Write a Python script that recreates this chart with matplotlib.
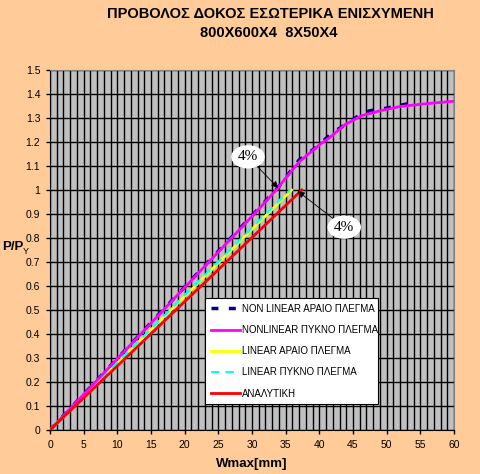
import matplotlib.pyplot as plt
import numpy as np

# values
x_nl_arai = [0, 5, 10, 15, 20, 25, 30, 34, 37, 39.4, 40.8, 42, 44.6, 46.3, 47.5, 49.8, 52, 53.9]
y_nl_arai = [0, 0.149, 0.298, 0.447, 0.596, 0.745, 0.893, 1.015, 1.125, 1.175, 1.21, 1.24, 1.285, 1.32, 1.33, 1.34, 1.353, 1.363]

x_nl_pykno = [0, 5, 10, 15, 20, 25, 30, 33.6, 35, 37.1, 40.1, 41.6, 43.8, 46.3, 49, 52, 56, 60]
y_nl_pykno = [0, 0.148, 0.297, 0.445, 0.594, 0.742, 0.89, 1.0, 1.05, 1.12, 1.19, 1.22, 1.272, 1.31, 1.33, 1.348, 1.36, 1.37]

x_lin_arai = [0, 5, 10, 15, 20, 25, 30, 35.9]
y_lin_arai = [0, 0.139, 0.279, 0.418, 0.557, 0.696, 0.836, 1.0]

x_lin_pykno = [0, 5, 10, 15, 20, 25, 30, 35.6]
y_lin_pykno = [0, 0.141, 0.281, 0.421, 0.562, 0.702, 0.843, 1.0]

x_anal = [0, 5, 10, 15, 20, 25, 30, 37.4]
y_anal = [0, 0.134, 0.267, 0.401, 0.535, 0.668, 0.802, 1.0]

labels = ['NON LINEAR ΑΡΑΙΟ ΠΛΕΓΜΑ', 'NONLINEAR ΠΥΚΝΟ ΠΛΕΓΜΑ',
          'LINEAR ΑΡΑΙΟ ΠΛΕΓΜΑ', 'LINEAR ΠΥΚΝΟ ΠΛΕΓΜΑ', 'ΑΝΑΛΥΤΙΚΗ']

plt.rcParams['font.family'] = ['Liberation Sans', 'DejaVu Sans']

fig = plt.figure(figsize=(4.81, 4.74), dpi=100, facecolor='#FFCC99')
ax = fig.add_axes([50/481, 1-430/474, 404/481, 360/474])
ax.set_facecolor('#C0C0C0')

ax.plot(x_nl_arai, y_nl_arai, color='#000080', lw=2.5, dashes=(2, 3), label=labels[0], zorder=3)
ax.plot(x_nl_pykno, y_nl_pykno, color='#FF00FF', lw=2, label=labels[1], zorder=4)
ax.plot(x_lin_arai, y_lin_arai, color='#FFFF00', lw=2, label=labels[2], zorder=3)
ax.plot(x_lin_pykno, y_lin_pykno, color='#00FFFF', lw=1.5, dashes=(4, 3), label=labels[3], zorder=3)
ax.plot(x_anal, y_anal, color='#FF0000', lw=2, label=labels[4], zorder=5)

ax.set_xlim(0, 60)
ax.set_ylim(0, 1.5)
ax.set_xticks(np.arange(0, 61, 5))
ax.set_xticks(np.arange(0, 61, 1), minor=True)
ax.set_yticks(np.arange(0, 1.51, 0.1))
ax.set_yticklabels(['0'] + ['%g' % round(v, 1) for v in np.arange(0.1, 1.51, 0.1)])
ax.grid(True, which='both', axis='x', color='black', lw=1)
ax.grid(True, which='major', axis='y', color='black', lw=1)
ax.tick_params(which='both', direction='out', length=3, width=1, labelsize=7.5, pad=4)
ax.tick_params(which='minor', length=0)
for s in ax.spines.values():
    s.set_color('#808080')
ax.spines['left'].set_color('black')
ax.spines['bottom'].set_color('black')

# 4% callouts
oval = dict(boxstyle='ellipse,pad=0.08', fc='white', ec='white')
arrow = dict(arrowstyle='-|>', color='black', lw=0.6, mutation_scale=10, shrinkA=0, shrinkB=0)
ax.annotate('4%', xy=(33.9, 1.008), xytext=(29.4, 1.138), fontsize=11, family='Liberation Serif',
            ha='center', va='center', bbox=oval, arrowprops=arrow, zorder=10)
ax.annotate('4%', xy=(36.8, 0.995), xytext=(43.7, 0.845), fontsize=11, family='Liberation Serif',
            ha='center', va='center', bbox=oval, arrowprops=arrow, zorder=10)

leg = fig.legend(loc='upper left', bbox_to_anchor=(205/481, 1-404/474, 173/481, 106/474),
                 mode='expand', fontsize=7, frameon=True, fancybox=False, borderaxespad=0,
                 handlelength=3.0, handletextpad=0.2, labelspacing=1.15, borderpad=0.6)
leg.get_frame().set_edgecolor('black')
leg.get_frame().set_linewidth(0.8)
leg.get_frame().set_facecolor('white')
leg.get_frame().set_alpha(1)

fig.text(270/481, 1-14/474, 'ΠΡΟΒΟΛΟΣ ΔΟΚΟΣ ΕΣΩΤΕΡΙΚΑ ΕΝΙΣΧΥΜΕΝΗ', ha='center', va='center',
         fontsize=10.5, fontweight='bold')
fig.text(269/481, 1-33/474, '800X600X4  8X50X4', ha='center', va='center',
         fontsize=10.5, fontweight='bold')
fig.text(252/481, 1-464/474, 'Wmax[mm]', ha='center', va='center', fontsize=9.5, fontweight='bold')
fig.text(2/481, 1-247/474, 'P/P', ha='left', va='center', fontsize=9.5, fontweight='bold')
fig.text(23/481, 1-251/474, 'Y', ha='left', va='center', fontsize=6.5)

fig.savefig('out.png', dpi=100, facecolor=fig.get_facecolor())
